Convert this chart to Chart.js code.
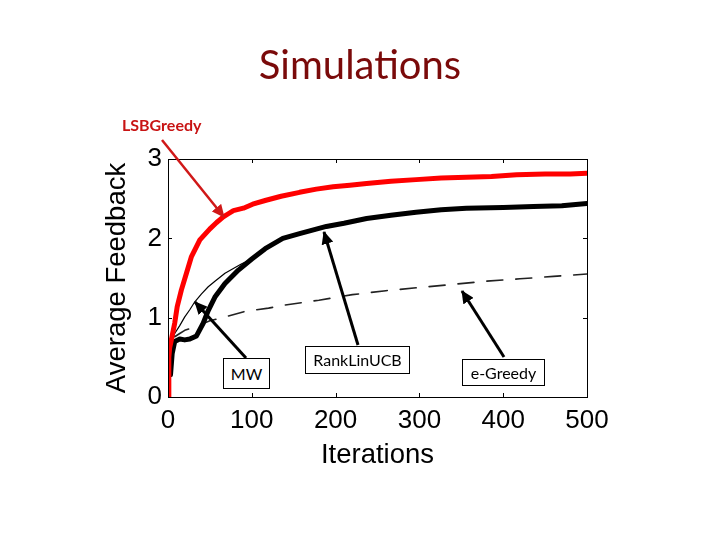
<!DOCTYPE html>
<html lang="en">
<head>
<meta charset="UTF-8">
<title>Simulations</title>
<script src="https://cdn.jsdelivr.net/npm/chart.js"></script>
<style>
  body { margin: 0; background: #fff; }
  #wrap { position: relative; width: 720px; height: 540px; }
  #chart { position: absolute; left: 0; top: 0; }
  #title { position: absolute; left: 0; width: 720px; top: 40px; text-align: center;
           font-family: Lato, "Open Sans", sans-serif; font-size: 40px; color: #7a0a0a; }
  .note { position: absolute; font-family: Lato, "Open Sans", sans-serif; font-size: 16px;
          color: #000; background: #fff; border: 1px solid #000; text-align: center; box-sizing: border-box; }
  #lsb { position: absolute; left: 122px; top: 115px; font-family: Lato, "Open Sans", sans-serif;
         font-weight: bold; font-size: 16px; color: #c81414; }
  svg { position: absolute; left: 0; top: 0; }
</style>
</head>
<body>
<div id="wrap">
  <canvas id="chart" width="720" height="540"></canvas>
  <div id="title">Simulations</div>
  <div id="lsb">LSBGreedy</div>
  <svg width="720" height="540">
    <defs>
      <marker id="hk" markerUnits="userSpaceOnUse" markerWidth="14" markerHeight="12" refX="12" refY="6" orient="auto">
        <path d="M0,0 L13,6 L0,12 z" fill="#000"></path>
      </marker>
      <marker id="hr" markerUnits="userSpaceOnUse" markerWidth="14" markerHeight="12" refX="12" refY="6" orient="auto">
        <path d="M0,0 L13,6 L0,12 z" fill="#d01818"></path>
      </marker>
    </defs>
    <line x1="162" y1="140" x2="224" y2="217" stroke="#d01818" stroke-width="2.5" marker-end="url(#hr)"></line>
    <line x1="246" y1="358" x2="195" y2="302" stroke="#000" stroke-width="3" marker-end="url(#hk)"></line>
    <line x1="358" y1="345" x2="324" y2="232" stroke="#000" stroke-width="3" marker-end="url(#hk)"></line>
    <line x1="504" y1="357" x2="462" y2="291" stroke="#000" stroke-width="3" marker-end="url(#hk)"></line>
  </svg>
  <div class="note" style="left:223px; top:358px; width:47px; height:31px; line-height:29px;">MW</div>
  <div class="note" style="left:305px; top:346px; width:105px; height:28px; line-height:26px;">RankLinUCB</div>
  <div class="note" style="left:462px; top:359px; width:83px; height:27px; line-height:25px;">e-Greedy</div>
</div>
<script>
// values
var lsbX = [0, 1, 2, 4, 8, 11, 16, 22, 28, 38, 50, 58, 66, 72, 78, 90, 101, 117, 135, 157, 177, 197, 217, 237, 266, 296, 326, 356, 386, 416, 450, 480, 500];
var lsbY = [0, 0.5, 0.62, 0.72, 0.93, 1.14, 1.35, 1.56, 1.77, 1.98, 2.12, 2.2, 2.27, 2.31, 2.35, 2.38, 2.43, 2.48, 2.53, 2.58, 2.62, 2.65, 2.67, 2.69, 2.72, 2.74, 2.76, 2.77, 2.78, 2.8, 2.81, 2.81, 2.82];

var rankX = [3, 5, 8, 14, 20, 26, 34, 42, 48, 56, 68, 84, 100, 116, 137, 157, 189, 210, 237, 266, 296, 326, 356, 400, 436, 470, 500];
var rankY = [0.28, 0.55, 0.7, 0.73, 0.72, 0.73, 0.77, 0.93, 1.09, 1.26, 1.43, 1.6, 1.74, 1.87, 2.0, 2.06, 2.15, 2.19, 2.25, 2.29, 2.33, 2.36, 2.38, 2.39, 2.4, 2.41, 2.44];

var mwX = [2, 5, 8, 14, 20, 26, 32, 40, 48, 56, 68, 78, 88, 96, 104, 117, 137, 157, 189, 237, 296, 356, 436, 500];
var mwY = [0.5, 0.72, 0.8, 0.9, 1.01, 1.1, 1.2, 1.3, 1.39, 1.46, 1.56, 1.62, 1.68, 1.72, 1.77, 1.87, 1.99, 2.05, 2.14, 2.24, 2.32, 2.37, 2.39, 2.43];

var egX = [8, 14, 20, 36, 50, 68, 92, 120, 140, 180, 220, 260, 300, 340, 380, 420, 460, 500];
var egY = [0.76, 0.8, 0.84, 0.9, 0.96, 1.01, 1.08, 1.12, 1.16, 1.22, 1.29, 1.34, 1.38, 1.42, 1.46, 1.49, 1.52, 1.55];

var xTicks = [0, 100, 200, 300, 400, 500];
var yTicks = [0, 1, 2, 3];

function pts(xs, ys) {
  return xs.map(function (x, i) { return { x: x, y: ys[i] }; });
}

// MATLAB style box with inward ticks
var boxPlugin = {
  id: 'box',
  afterDatasetsDraw: function (chart) {
    var c = chart.ctx, a = chart.chartArea, sx = chart.scales.x, sy = chart.scales.y;
    c.save();
    c.strokeStyle = '#000';
    c.lineWidth = 1;
    c.strokeRect(a.left + 0.5, a.top + 0.5, a.right - a.left, a.bottom - a.top);
    c.beginPath();
    xTicks.forEach(function (v) {
      var p = Math.round(sx.getPixelForValue(v)) + 0.5;
      c.moveTo(p, a.bottom); c.lineTo(p, a.bottom - 4);
      c.moveTo(p, a.top); c.lineTo(p, a.top + 4);
    });
    yTicks.forEach(function (v) {
      var p = Math.round(sy.getPixelForValue(v)) + 0.5;
      c.moveTo(a.left, p); c.lineTo(a.left + 4, p);
      c.moveTo(a.right, p); c.lineTo(a.right - 4, p);
    });
    c.stroke();
    c.restore();
  }
};

var axisFont = { family: 'Liberation Sans', size: 26 };
var titleFont = { family: 'Liberation Sans', size: 27.5 };

new Chart(document.getElementById('chart'), {
  type: 'line',
  data: {
    datasets: [
      { label: 'LSBGreedy', data: pts(lsbX, lsbY), borderColor: '#ff0000', borderWidth: 5, order: 1 },
      { label: 'RankLinUCB', data: pts(rankX, rankY), borderColor: '#000', borderWidth: 5, order: 2 },
      { label: 'MW', data: pts(mwX, mwY), borderColor: '#000', borderWidth: 1.2, order: 3 },
      { label: 'e-Greedy', data: pts(egX, egY), borderColor: '#222', borderWidth: 1.6, borderDash: [16, 13], order: 4 }
    ]
  },
  options: {
    responsive: false,
    animation: false,
    events: [],
    elements: { point: { radius: 0 }, line: { tension: 0, fill: false, borderCapStyle: 'round', borderJoinStyle: 'round' } },
    layout: { padding: { top: 159, left: 101, right: 133, bottom: 68 } },
    plugins: { legend: { display: false }, tooltip: { enabled: false } },
    scales: {
      x: {
        type: 'linear', min: 0, max: 500,
        afterBuildTicks: function (s) { s.ticks = xTicks.map(function (v) { return { value: v }; }); },
        afterFit: function (s) { s.height = 75; },
        grid: { display: false, drawTicks: false },
        border: { display: false },
        ticks: { color: '#000', font: axisFont, padding: 8, maxRotation: 0 },
        title: { display: true, text: 'Iterations', color: '#000', font: titleFont, padding: 0 }
      },
      y: {
        min: 0, max: 3,
        afterBuildTicks: function (s) { s.ticks = yTicks.map(function (v) { return { value: v }; }); },
        afterFit: function (s) { s.width = 67; },
        grid: { display: false, drawTicks: false },
        border: { display: false },
        ticks: { color: '#000', font: axisFont, padding: 6 },
        title: { display: true, text: 'Average Feedback', color: '#000', font: titleFont, padding: 0 }
      }
    }
  },
  plugins: [boxPlugin]
});
</script>
</body>
</html>
